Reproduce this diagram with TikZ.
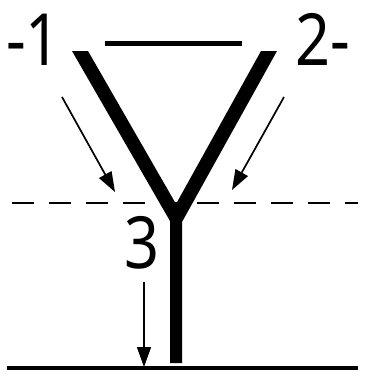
\documentclass[tikz,border=0pt]{standalone}
\usepackage{fontspec}
\newfontfamily\labelfont{Noto Sans}
\usetikzlibrary{arrows.meta}

\newcommand{\narrow}[1]{\scalebox{0.85}[1]{#1}}

\tikzset{
  numlabel/.style={inner sep=0pt,font=\labelfont\fontsize{72}{72}\selectfont},
  flow/.style={->,line width=1.7pt},
}

\begin{document}
\begin{tikzpicture}[x=1pt,y=-1pt,>={Triangle[length=20pt,width=14pt]}]
  \useasboundingbox (0,0) rectangle (370,376);
  % labels
  \node[numlabel,anchor=base west] (lab1) at (6,65) {\narrow{-1}};
  \node[numlabel,anchor=base west] (lab2) at (295,65) {\narrow{2-}};
  \node[numlabel,anchor=base] (lab3) at (142,268) {\narrow{3}};
  % top bar and levels
  \draw[line width=5pt] (105,43) -- (242,43);
  \draw[line width=1.5pt,dash pattern=on 22pt off 15pt] (12,203) -- (358,203);
  \draw[line width=4.5pt] (7,368) -- (358,368);
  % the fork
  \fill (72,51) -- (88,51) -- (176,204) -- (261,51) -- (277,51) -- (182,222)
        -- (182,363) -- (170,363) -- (170,221) -- cycle;
  % flow arrows
  \coordinate (in1) at (62,97);
  \coordinate (to1) at (115,192);
  \coordinate (in2) at (284,97);
  \coordinate (to2) at (232,190);
  \coordinate (in3) at (144,282);
  \coordinate (to3) at (144,367);
  \draw[flow] (in1) -- (to1);
  \draw[flow] (in2) -- (to2);
  \draw[flow] (in3) -- (to3);
\end{tikzpicture}
\end{document}
